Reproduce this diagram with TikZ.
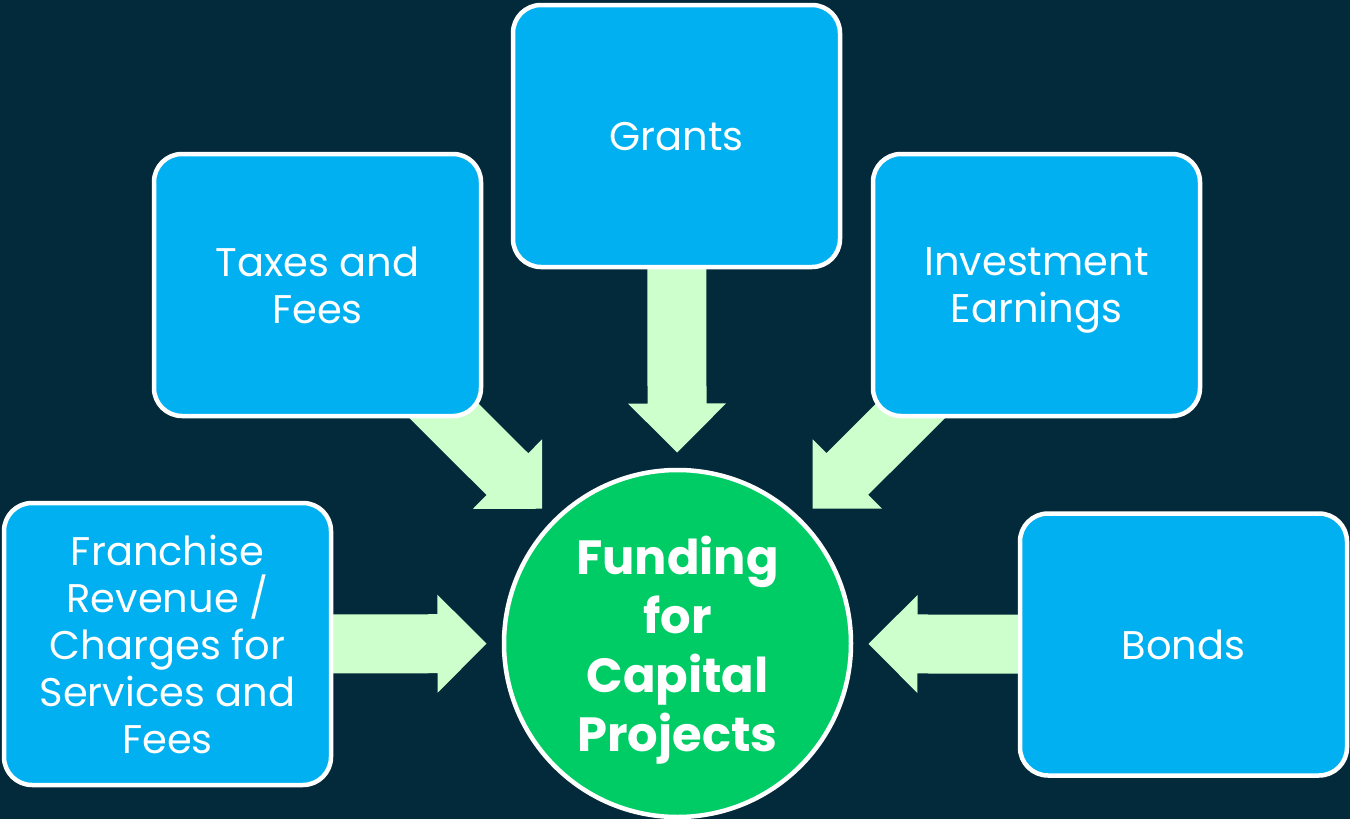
\documentclass[tikz,border=0pt]{standalone}
\usepackage{fontspec}
\setmainfont{Poppins}
\usetikzlibrary{calc}
\definecolor{bg}{HTML}{032A3B}
\definecolor{boxblue}{HTML}{00B0F0}
\definecolor{arrowgreen}{HTML}{CCFFCC}
\definecolor{circgreen}{HTML}{00CC66}
\pgfdeclarelayer{bgfill}
\pgfdeclarelayer{arrows}
\pgfsetlayers{bgfill,arrows,main}
\tikzset{
  srcbox/.style={draw=white, line width=4.5pt, fill=boxblue, rounded corners=28pt,
    minimum width=327pt, minimum height=262pt, inner sep=0pt, align=center,
    text=white, text depth=0pt, font=\fontsize{40}{47}\selectfont},
  fundcirc/.style={circle, draw=white, line width=4.5pt, fill=circgreen,
    minimum size=347pt, inner sep=0pt, align=center, text=white, text depth=0pt,
    font=\fontsize{48}{59}\selectfont\bfseries},
  blockarrow/.style={fill=arrowgreen},
}
\newcommand\flowarrow[2]{% #1 source node, #2 target node
  \coordinate (T) at ($(#2.center)!191pt!(#1.center)$);
  \coordinate (H) at ($(T)!49pt!(#1.center)$);
  \fill[blockarrow] (T) -- ($(H)!49pt!90:(#1.center)$) -- ($(H)!29.5pt!90:(#1.center)$)
    -- ($(#1.center)!29.5pt!-90:(T)$) -- ($(#1.center)!29.5pt!90:(T)$)
    -- ($(H)!29.5pt!-90:(#1.center)$) -- ($(H)!49pt!-90:(#1.center)$) -- cycle;
}
\begin{document}
\begin{tikzpicture}[x=1pt,y=1pt]
  \begin{pgfonlayer}{bgfill}
    \fill[bg] (0,0) rectangle (1350,-819);
  \end{pgfonlayer}
  \useasboundingbox (0,0) rectangle (1350,-819);

  \node[fundcirc] (fund) at (677.5,-643.5) {Funding\\for\\Capital\\Projects};
  \node[srcbox] (grants) at (676.5,-136) {Grants};
  \node[srcbox] (taxes) at (317.5,-285) {Taxes and\\Fees};
  \node[srcbox] (invest) at (1036.5,-285) {Investment\\Earnings};
  \node[srcbox, minimum height=282pt] (fran) at (167.5,-644) {Franchise\\Revenue /\\Charges for\\Services and\\Fees};
  \node[srcbox] (bonds) at (1183.5,-644.5) {Bonds};

  \begin{pgfonlayer}{arrows}
    \flowarrow{grants}{fund}
    \flowarrow{taxes}{fund}
    \flowarrow{invest}{fund}
    \flowarrow{fran}{fund}
    \flowarrow{bonds}{fund}
  \end{pgfonlayer}
\end{tikzpicture}
\end{document}
